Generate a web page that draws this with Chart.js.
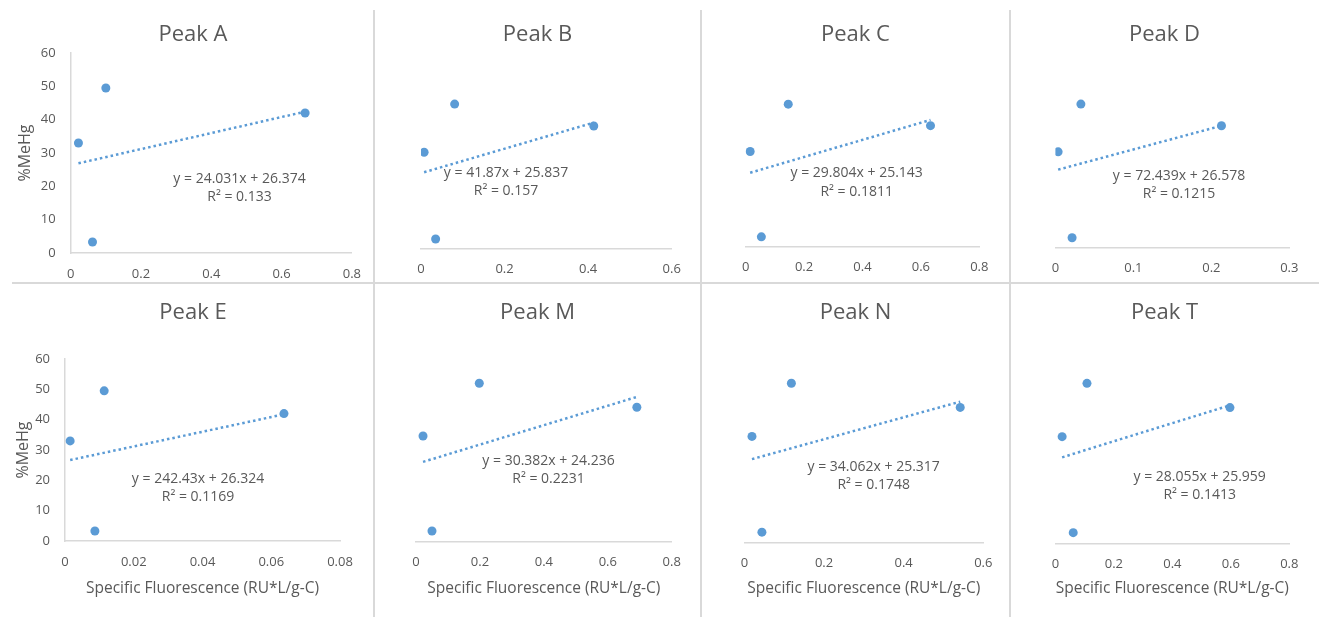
<!DOCTYPE html>
<html>
<head>
<meta charset="utf-8">
<script src="https://cdn.jsdelivr.net/npm/chart.js@4.4.1/dist/chart.umd.min.js"></script>
<style>
body { margin: 0; background: #fff; }
#wrap { position: relative; width: 1319px; height: 617px; overflow: hidden; background: #fff; }
#wrap canvas { position: absolute; }
.sep { position: absolute; background: #d9d9d9; }
</style>
</head>
<body>
<div id="wrap"></div>
<script>
// values
const peakNames = ['Peak A', 'Peak B', 'Peak C', 'Peak D', 'Peak E', 'Peak M', 'Peak N', 'Peak T'];
const meHgPct = [33, 49.5, 3.3, 42];
const fluorA = [0.022, 0.100, 0.062, 0.667];
const fluorB = [0.0074, 0.0805, 0.035, 0.4135];
const fluorC = [0.0156, 0.146, 0.054, 0.633];
const fluorD = [0.0035, 0.0327, 0.0214, 0.213];
const fluorE = [0.0015, 0.0114, 0.0087, 0.0637];
const fluorM = [0.022, 0.198, 0.050, 0.691];
const fluorN = [0.019, 0.118, 0.044, 0.542];
const fluorT = [0.023, 0.108, 0.061, 0.597];
const fluorescence = [fluorA, fluorB, fluorC, fluorD, fluorE, fluorM, fluorN, fluorT];
const slopes = [24.031, 41.87, 29.804, 72.439, 242.43, 30.382, 34.062, 28.055];
const intercepts = [26.374, 25.837, 25.143, 26.578, 26.324, 24.236, 25.317, 25.959];
const rSquared = [0.133, 0.157, 0.1811, 0.1215, 0.1169, 0.2231, 0.1748, 0.1413];
const xMax = [0.8, 0.6, 0.8, 0.3, 0.08, 0.8, 0.6, 0.8];
const xStep = [0.2, 0.2, 0.2, 0.1, 0.02, 0.2, 0.2, 0.2];
const yTicks = [0, 10, 20, 30, 40, 50, 60];
const yTitle = '%MeHg';
const xTitle = 'Specific Fluorescence (RU*L/g-C)';

// page layout: cell box, plot box (page px), equation label centre (cell px)
const cells = [
    [12, 10, 362, 273], [374, 10, 327, 273], [701, 10, 309, 273], [1010, 10, 309, 273],
    [12, 283, 362, 334], [374, 283, 327, 334], [701, 283, 309, 334], [1010, 283, 309, 334]
];
const plots = [
    [70.7, 53, 352, 253], [397.5, 73.4, 671.7, 248.6], [723.3, 74, 979.3, 246.3], [1032.7, 73.7, 1289.3, 247.3],
    [65, 359, 340, 541], [395, 349.7, 671.7, 541.5], [722.7, 349.4, 983.3, 542.8], [1032.7, 349.4, 1289.3, 543.3]
];
const eqPos = [
    [227.5, 169], [132, 162.7], [155.7, 163.3], [169, 165.7],
    [186, 196], [174.5, 177.7], [172.7, 183.7], [189.7, 193.7]
];
const showY = [true, false, false, false, true, false, false, false];

const FONT = '"Open Sans", "Noto Sans", sans-serif';
const TEXT = '#595959';
const BLUE = '#5B9BD5';
const AXIS = '#d9d9d9';

const panelText = {
    id: 'panelText',
    afterDraw(chart, args, opts) {
        const ctx = chart.ctx;
        ctx.save();
        ctx.fillStyle = TEXT;
        ctx.textAlign = 'center';
        ctx.textBaseline = 'middle';
        ctx.font = '22px ' + FONT;
        ctx.fillText(opts.title, chart.width / 2, opts.titleY);
        ctx.font = '14px ' + FONT;
        ctx.fillText(opts.eq, opts.eqX, opts.eqY);
        ctx.fillText(opts.r2, opts.eqX, opts.eqY + 18.5);
        ctx.restore();
    }
};

const wrap = document.getElementById('wrap');

peakNames.forEach((name, i) => {
    const [cx, cy, cw, ch] = cells[i];
    const [pl, pt, pr, pb] = plots[i];
    const bottomRow = i >= 4;
    const canvas = document.createElement('canvas');
    canvas.width = cw;
    canvas.height = ch;
    canvas.style.left = cx + 'px';
    canvas.style.top = cy + 'px';
    wrap.appendChild(canvas);

    const xs = fluorescence[i];
    const points = xs.map((x, k) => ({ x: x, y: meHgPct[k] }));
    const x0 = Math.min(...xs), x1 = Math.max(...xs);
    const trend = [x0, x1].map(x => ({ x: x, y: slopes[i] * x + intercepts[i] }));
    const yW = pl - cx;
    const xH = ch - (pb - cy);

    new Chart(canvas, {
        type: 'scatter',
        data: {
            datasets: [{
                data: points,
                backgroundColor: BLUE,
                borderColor: BLUE,
                borderWidth: 0,
                pointRadius: 4.5
            }, {
                data: trend,
                showLine: true,
                borderColor: BLUE,
                borderWidth: 2.5,
                borderDash: [2.5, 3],
                pointRadius: 0,
                fill: false
            }]
        },
        options: {
            responsive: false,
            animation: false,
            layout: {
                padding: {
                    left: showY[i] ? 0 : yW,
                    right: cx + cw - pr,
                    top: pt - cy,
                    bottom: 0
                }
            },
            plugins: {
                legend: { display: false },
                tooltip: { enabled: false },
                panelText: {
                    title: name,
                    titleY: bottomRow ? 29.3 : 25,
                    eq: 'y = ' + slopes[i] + 'x + ' + intercepts[i],
                    r2: 'R\u00b2 = ' + rSquared[i],
                    eqX: eqPos[i][0],
                    eqY: eqPos[i][1]
                }
            },
            scales: {
                x: {
                    type: 'linear',
                    min: 0,
                    max: xMax[i],
                    grid: { display: false, drawTicks: false },
                    border: { display: true, color: AXIS, width: 1.5 },
                    ticks: {
                        stepSize: xStep[i],
                        padding: 13,
                        color: TEXT,
                        autoSkip: false,
                        maxRotation: 0,
                        font: { family: FONT, size: 13 },
                        callback: v => String(+v.toFixed(3))
                    },
                    title: {
                        display: bottomRow,
                        text: xTitle,
                        color: TEXT,
                        font: { family: FONT, size: 15.5 },
                        padding: { top: 0, bottom: 19 }
                    },
                    afterFit: s => { s.height = xH; }
                },
                y: {
                    type: 'linear',
                    display: showY[i],
                    min: yTicks[0],
                    max: yTicks[yTicks.length - 1],
                    grid: { display: false, drawTicks: false },
                    border: { display: true, color: AXIS, width: 1.5 },
                    ticks: {
                        stepSize: yTicks[1] - yTicks[0],
                        padding: 15,
                        color: TEXT,
                        font: { family: FONT, size: 13 }
                    },
                    title: {
                        display: true,
                        text: yTitle,
                        color: TEXT,
                        font: { family: FONT, size: 16 },
                        padding: { top: i === 4 ? 1.5 : 3.5, bottom: 0 }
                    },
                    afterFit: s => { s.width = yW; }
                }
            }
        },
        plugins: [panelText]
    });
});

// panel borders
[[12, 282, 1307, 2], [373, 10, 2, 607], [700, 10, 2, 607], [1009, 10, 2, 607]].forEach(r => {
    const d = document.createElement('div');
    d.className = 'sep';
    d.style.left = r[0] + 'px';
    d.style.top = r[1] + 'px';
    d.style.width = r[2] + 'px';
    d.style.height = r[3] + 'px';
    wrap.appendChild(d);
});
</script>
</body>
</html>
